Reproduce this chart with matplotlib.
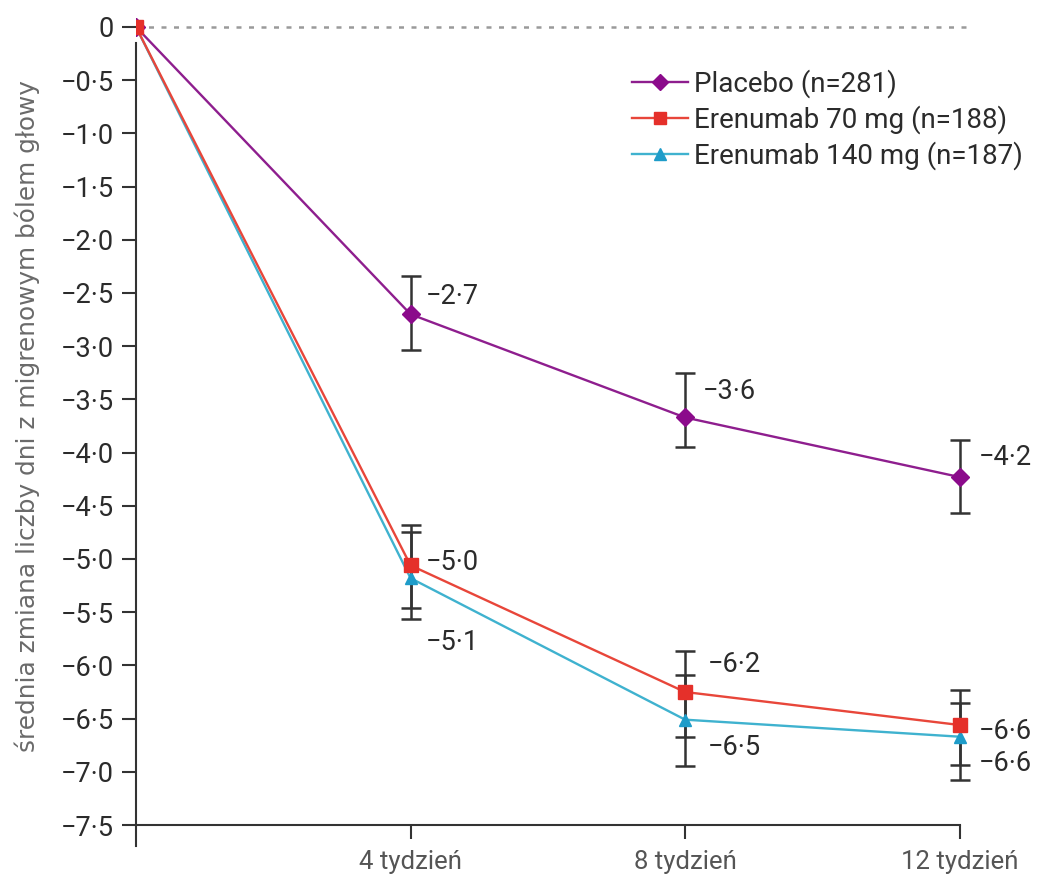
import matplotlib
matplotlib.use("Agg")
import matplotlib.pyplot as plt
import numpy as np

# data
weeks = [0, 4, 8, 12]
week_labels = ["4 tydzień", "8 tydzień", "12 tydzień"]

series_names = ["Placebo (n=281)", "Erenumab 70 mg (n=188)", "Erenumab 140 mg (n=187)"]
placebo = [0, -2.70, -3.67, -4.23]
placebo_lo = [0, -3.04, -3.95, -4.57]
placebo_hi = [0, -2.34, -3.25, -3.88]
placebo_txt = [-2.7, -3.6, -4.2]

e70 = [0, -5.06, -6.25, -6.56]
e70_lo = [0, -5.46, -6.67, -6.94]
e70_hi = [0, -4.68, -5.86, -6.23]
e70_txt = [-5.0, -6.2, -6.6]

e140 = [0, -5.18, -6.51, -6.67]
e140_lo = [0, -5.56, -6.95, -7.08]
e140_hi = [0, -4.75, -6.09, -6.35]
e140_txt = [-5.1, -6.5, -6.6]

y_ticks = np.arange(0, -7.51, -0.5)

plt.rcParams['font.family'] = ['Roboto', 'DejaVu Sans']


def fmt(v):
    s = f"{abs(v):.1f}".replace(".", "\u00b7")
    return "\u2212" + s if v < 0 else s


fig = plt.figure(figsize=(10.38, 8.86), dpi=100)
ax = fig.add_axes([0.131, 0.0388, 0.82, 0.9548])

# zero reference line
ax.hlines(0, 0, 12.2, colors="#9a9a9a", linestyles=(0, (2, 3)), linewidth=1.8, zorder=1)

specs = [
    (placebo, placebo_lo, placebo_hi, "#8e1e8e", "#8b0a8b", "D", 9),
    (e140, e140_lo, e140_hi, "#3fb2cf", "#1e9cc9", "^", 9),
    (e70, e70_lo, e70_hi, "#e8463a", "#e5302a", "s", 9.5),
]
names = {id(placebo): series_names[0], id(e70): series_names[1], id(e140): series_names[2]}

handles = {}
for vals, lo, hi, lc, mc, mk, ms in specs:
    v = np.array(vals[1:])
    err = [v - np.array(lo[1:]), np.array(hi[1:]) - v]
    ax.errorbar(weeks[1:], v, yerr=err, fmt="none", ecolor="#333333",
                elinewidth=1.8, capsize=7, capthick=1.8, zorder=2)
    h, = ax.plot(weeks, vals, color=lc, linewidth=1.7, marker=mk, markersize=ms,
                 markerfacecolor=mc, markeredgecolor=mc, zorder=3,
                 label=names[id(vals)])
    handles[id(vals)] = h

# value labels (offsets in points)
offs_p = [(11, 13), (13, 19), (14, 14)]
offs_70 = [(11, 2), (16, 20), (14, -5)]
offs_140 = [(11, -46), (16, -20), (14, -19)]
for vals, txts, offs in [(placebo, placebo_txt, offs_p), (e70, e70_txt, offs_70),
                         (e140, e140_txt, offs_140)]:
    for x, y, t, o in zip(weeks[1:], vals[1:], txts, offs):
        ax.annotate(fmt(t), (x, y), xytext=o, textcoords="offset points",
                    ha="left", va="center", fontsize=19.5, color="#2b2b2b")

ax.set_xlim(0, 12.4)
ax.set_ylim(-7.75, 0.2)
ax.set_yticks(y_ticks)
ax.set_yticklabels([fmt(t) if t != 0 else "0" for t in y_ticks])
ax.set_xticks(weeks[1:])
ax.set_xticklabels(week_labels)

for s in ["top", "right"]:
    ax.spines[s].set_visible(False)
ax.spines["left"].set_bounds(-7.7, -0.15)
ax.spines["bottom"].set_bounds(0, 12)
ax.spines["bottom"].set_position(("data", -7.5))
for s in ["left", "bottom"]:
    ax.spines[s].set_linewidth(1.5)
    ax.spines[s].set_color("#333333")

ax.tick_params(axis="y", length=10, width=1.5, color="#333333", pad=6,
               labelsize=19.5, labelcolor="#2b2b2b")
ax.tick_params(axis="x", length=10, width=1.5, color="#333333", pad=8,
               labelsize=18.5, labelcolor="#555555")

ax.set_ylabel("średnia zmiana liczby dni z migrenowym bólem głowy",
              fontsize=17.8, color="#6a6a6a", family=["DejaVu Sans"])
ax.yaxis.label.set_va("center")
ax.yaxis.set_label_coords(-0.128, 0.515)

leg = ax.legend([handles[id(placebo)], handles[id(e70)], handles[id(e140)]],
                series_names, loc="upper left",
                bbox_to_anchor=(632 / 1038, 1 - 69 / 886),
                bbox_transform=fig.transFigure, frameon=False, fontsize=20,
                handlelength=2.0, handletextpad=0.25, labelspacing=0.27,
                borderpad=0, borderaxespad=0, markerscale=0.9)
for t in leg.get_texts():
    t.set_color("#2b2b2b")

fig.savefig("out.png", dpi=100)
